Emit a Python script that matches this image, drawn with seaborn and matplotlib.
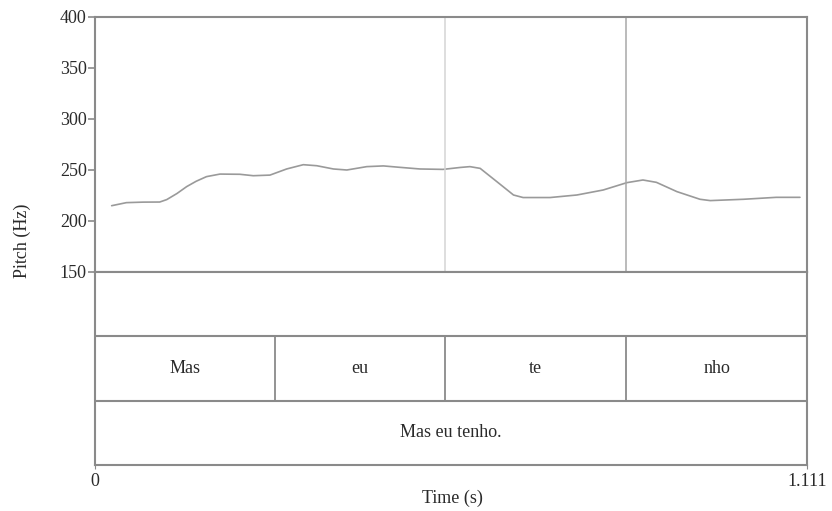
import numpy as np
import pandas as pd
import seaborn as sns
import matplotlib.pyplot as plt

# pitch contour (time s, pitch Hz)
time_s = [0.026, 0.049, 0.075, 0.101, 0.112, 0.128, 0.143, 0.158, 0.174, 0.195, 0.226, 0.247,
          0.273, 0.299, 0.325, 0.346, 0.372, 0.393, 0.424, 0.450, 0.476, 0.507, 0.543, 0.570,
          0.585, 0.601, 0.627, 0.653, 0.668, 0.710, 0.752, 0.793, 0.830, 0.855, 0.876, 0.908,
          0.944, 0.960, 1.012, 1.063, 1.100]
pitch_hz = [215, 218, 218.5, 218.6, 221, 227, 233.7, 239, 243.5, 246, 245.8, 244.4,
            245, 251, 255.2, 254.2, 251, 250, 253.3, 254, 252.6, 251, 250.6, 252.5,
            253.3, 251.6, 238.6, 225.5, 223, 223, 225.5, 230.4, 237.6, 240.2, 237.9, 228.8,
            221.3, 220, 221.3, 223.2, 223.2]

total_dur = 1.111
syllables = ["Mas", "eu", "te", "nho"]
syl_bounds = [0, 0.281, 0.546, 0.829, total_dur]
sentence = "Mas eu tenho."

sns.set_style("white")
plt.rcParams['font.family'] = ['Liberation Serif', 'DejaVu Serif']

fig = plt.figure(figsize=(8.32, 5.11), dpi=100)
W, H = 832, 511

def px_axes(x0, y0, x1, y1):
    return fig.add_axes([x0 / W, 1 - y1 / H, (x1 - x0) / W, (y1 - y0) / H])

frame_col = "#8a8a8a"
txt_col = "#2a2a2a"
fs = 13

# pitch panel
ax = px_axes(95, 17, 807, 272)
df = pd.DataFrame({"t": time_s, "f0": pitch_hz})
sns.lineplot(data=df, x="t", y="f0", ax=ax, color="#9a9a9a", lw=1.2)
ax.set_xlim(0, total_dur)
ax.set_ylim(150, 400)
ax.set_yticks([150, 200, 250, 300, 350, 400])
ax.set_xticks([])
ax.set_xlabel("")
ax.set_ylabel("")
ax.tick_params(axis="y", left=True, length=5, width=1.2, color=frame_col, labelsize=fs,
               pad=1, labelcolor=txt_col)
for s in ax.spines.values():
    s.set_color(frame_col)
    s.set_linewidth(1.5)
ax.axvline(syl_bounds[2], color="#d4d4d4", lw=1.1)
ax.axvline(syl_bounds[3], color="#a8a8a8", lw=1.1)

# text grid tiers
tx = px_axes(95, 272, 807, 465)
tx.set_xlim(0, total_dur)
tx.set_ylim(0, 3)
tx.axhline(1, color=frame_col, lw=1.5)
tx.axhline(2, color=frame_col, lw=1.5)
for b in syl_bounds[1:-1]:
    tx.plot([b, b], [1, 2], color=frame_col, lw=1.3)
for i, lab in enumerate(syllables):
    tx.text((syl_bounds[i] + syl_bounds[i + 1]) / 2, 1.5, lab, ha="center", va="center",
            fontsize=fs, color=txt_col)
tx.text(total_dur / 2, 0.5, sentence, ha="center", va="center", fontsize=fs, color=txt_col)
for s in tx.spines.values():
    s.set_color(frame_col)
    s.set_linewidth(1.5)
tx.set_yticks([])
tx.set_xticks([0, total_dur])
tx.set_xticklabels(["0", "1.111"])
tx.tick_params(axis="x", bottom=True, length=3, color=frame_col, labelsize=fs, pad=3,
               labelcolor=txt_col)
tx.set_xlabel("")

fig.text(452 / W, 1 - 498 / H, "Time (s)", ha="center", va="center", fontsize=fs, color=txt_col)
fig.text(22 / W, 1 - 241 / H, "Pitch (Hz)", rotation=90, ha="center", va="center",
         fontsize=fs, color=txt_col)

fig.savefig("out.png", dpi=100)
